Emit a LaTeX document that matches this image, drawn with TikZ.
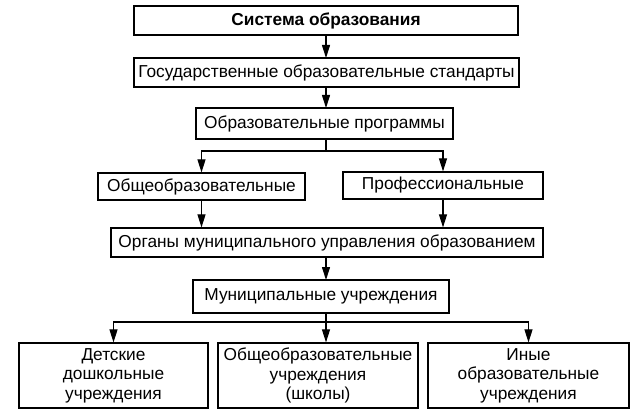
\documentclass[tikz,border=0pt]{standalone}
\usepackage{fontspec}
\setmainfont{Liberation Sans}
\usetikzlibrary{arrows.meta}

\begin{document}
\begin{tikzpicture}[x=1pt, y=-1pt,
    box/.style={draw, line width=1.2pt, inner sep=0pt, align=center,
      font=\fontsize{17.3}{19.5}\selectfont},
    headbox/.style={box, line width=1.5pt, font=\fontsize{17.3}{19.5}\selectfont\bfseries},
    arr/.style={-{Triangle[width=8pt, length=13pt]}, line width=1.1pt}]
  % Fix the page to the size of the picture
  \useasboundingbox (0,0) rectangle (632,417);

  % Top column of boxes
  \node[headbox, minimum width=384pt, minimum height=29pt] (sys) at (326,20.5) {Система образования};
  \node[box, minimum width=385pt, minimum height=29pt] (std) at (326.5,72.5) {Государственные образовательные стандарты};
  \node[box, minimum width=257pt, minimum height=31pt] (prog) at (324.5,123.5) {Образовательные программы};

  % Two kinds of programmes
  \node[box, minimum width=207pt, minimum height=27pt] (gen) at (201.5,186.5) {Общеобразовательные};
  \node[box, minimum width=200pt, minimum height=27pt] (prof) at (443,185.5) {Профессиональные};

  % Municipal level
  \node[box, minimum width=432pt, minimum height=29pt] (gov) at (327,242.5) {Органы муниципального управления образованием};
  \node[box, minimum width=256pt, minimum height=33pt] (mun) at (321,296.5) {Муниципальные учреждения};

  % Kinds of institutions
  \node[box, minimum width=189pt, minimum height=65pt] (kid) at (113.5,375.5) {Детские\\дошкольные\\учреждения};
  \node[box, minimum width=200pt, minimum height=65pt] (school) at (318,375.5) {Общеобразовательные\\учреждения\\(школы)};
  \node[box, minimum width=201pt, minimum height=65pt] (other) at (528.5,375.5) {Иные\\образовательные\\учреждения};

  % Branch points
  \coordinate (fork1) at (326,151);
  \coordinate (fork2) at (326,322);

  % Arrows down the column
  \draw[arr] (326,35) -- (326,58);
  \draw[arr] (326,87) -- (326,108);
  \draw[line width=1.1pt] (326,139) -- (fork1);
  \draw[arr] (fork1) -| (gen.north);
  \draw[arr] (fork1) -| (prof.north);
  \draw[arr] (gen.south) -- (gen.south |- gov.north);
  \draw[arr] (prof.south) -- (prof.south |- gov.north);
  \draw[arr] (326,257) -- (326,280);
  \draw[line width=1.1pt] (326,313) -- (fork2);
  \draw[arr] (fork2) -| (kid.north);
  \draw[arr] (fork2) -- (fork2 |- school.north);
  \draw[arr] (fork2) -| (other.north);
\end{tikzpicture}
\end{document}
